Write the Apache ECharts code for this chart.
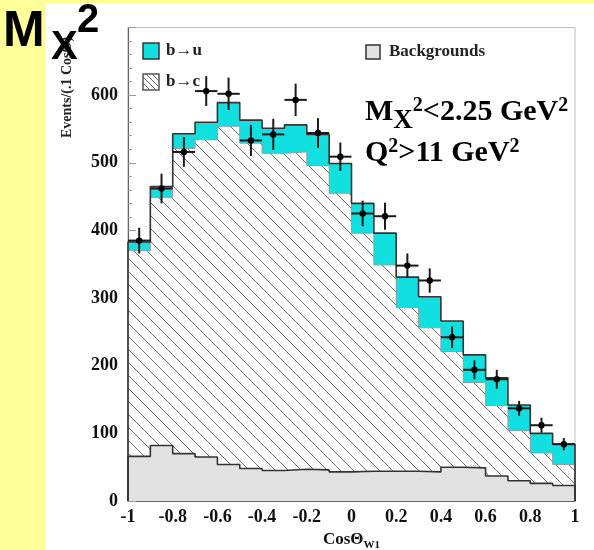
<!DOCTYPE html>
<html>
<head>
<meta charset="utf-8">
<script src="https://cdn.jsdelivr.net/npm/echarts@6/dist/echarts.min.js"></script>
<style>
html,body{margin:0;padding:0;background:#fff;}
#bg{position:absolute;left:0;top:0;width:594px;height:550px;background:#fff;}
#ystrip{position:absolute;left:0;top:0;width:45px;height:550px;background:#FFFF99;}
#tstrip{position:absolute;left:0;top:0;width:594px;height:3px;background:#FFFF99;}
#chart{position:absolute;left:0;top:0;width:594px;height:550px;}
</style>
</head>
<body>
<div id="bg"></div><div id="ystrip"></div><div id="tstrip"></div>
<div id="chart"></div>
<script>
// Bin edges (CosΘ_W1), 20 bins of width 0.1
const binEdges = [-1, -0.9, -0.8, -0.7, -0.6, -0.5, -0.4, -0.3, -0.2, -0.1, 0, 0.1, 0.2, 0.3, 0.4, 0.5, 0.6, 0.7, 0.8, 0.9, 1];
// Cumulative stack tops
const totalTop = [383, 465, 543, 560, 589, 563, 551, 556, 542, 499, 440, 396, 331, 302, 266, 216, 182, 142, 100, 84]; // b→u + b→c + bkg
const bcTop    = [370, 449, 521, 534, 554, 529, 514, 516, 496, 455, 396, 349, 286, 256, 221, 175, 141, 104, 71, 54];  // b→c + bkg
const bkg      = [66, 82, 70, 65, 54, 48, 45, 47, 46, 43, 44, 44, 44, 43, 50, 49, 37, 30, 26, 23];
// Data points
const dataX   = [-0.95, -0.85, -0.75, -0.65, -0.55, -0.45, -0.35, -0.25, -0.15, -0.05, 0.05, 0.15, 0.25, 0.35, 0.45, 0.55, 0.65, 0.75, 0.85, 0.95];
const dataY   = [385, 462, 516, 606, 602, 533, 542, 593, 544, 509, 425, 421, 348, 326, 242, 194, 180, 137, 112, 84];
const dataErr = [19, 22, 22, 22, 24, 23, 23, 24, 22, 21, 19, 20, 18, 18, 16, 14, 14, 11, 11, 9];
const yTicks = [0, 100, 200, 300, 400, 500, 600];

function hatchCanvas(s, color) {
  const c = document.createElement('canvas');
  c.width = s; c.height = s;
  const g = c.getContext('2d');
  g.fillStyle = '#fff'; g.fillRect(0, 0, s, s);
  g.strokeStyle = color; g.lineWidth = 1;
  g.beginPath();
  g.moveTo(0, 0); g.lineTo(s, s);
  g.moveTo(-2, s - 2); g.lineTo(2, s + 2);
  g.moveTo(s - 2, -2); g.lineTo(s + 2, 2);
  g.stroke();
  return c;
}
const hatch = hatchCanvas(13, '#6a6a6a');
const hatchSmall = hatchCanvas(6, '#666');

function stepData(vals) {
  const d = [[binEdges[0], 0]];
  for (let i = 0; i < vals.length; i++) d.push([binEdges[i], vals[i]]);
  d.push([binEdges[binEdges.length - 1], vals[vals.length - 1]]);
  d.push([binEdges[binEdges.length - 1], 0]);
  return d;
}

const serif = 'Liberation Serif';
const mctx = document.createElement('canvas').getContext('2d');
function tw(text, font) { mctx.font = font; return mctx.measureText(text).width; }

// Build a line of text pieces: [text, fontSize, dy]
function textRun(x0, yc, pieces) {
  const out = [];
  let x = x0;
  pieces.forEach(p => {
    const font = 'bold ' + p[1] + 'px "Liberation Serif"';
    out.push({type: 'text', x: x, y: yc + p[2], z: 20, style: {text: p[0], font: font, fill: '#000', verticalAlign: 'middle'}});
    x += tw(p[0], font);
  });
  return out;
}

const chart = echarts.init(document.getElementById('chart'), null, {renderer: 'canvas'});

function areaSeries(vals, fill, z) {
  return {type: 'line', step: 'end', data: stepData(vals), symbol: 'none', z: z,
    lineStyle: {width: 0}, areaStyle: {color: fill, opacity: 1}, silent: true, animation: false};
}
function lineSeries(vals, color, width, z) {
  return {type: 'line', step: 'end', data: stepData(vals), symbol: 'none', z: z,
    lineStyle: {color: color, width: width}, silent: true, animation: false};
}

const graphics = [
  // legend
  {type: 'rect', shape: {x: 143, y: 43, width: 16, height: 16}, style: {fill: '#12E0E0', stroke: '#333', lineWidth: 1.5}, z: 20},
  {type: 'text', x: 166, y: 51, style: {text: 'b→u', font: 'bold 17px "Liberation Serif"', fill: '#222', verticalAlign: 'middle'}, z: 20},
  {type: 'rect', shape: {x: 143, y: 74, width: 16, height: 16}, style: {fill: {image: hatchSmall, repeat: 'repeat'}, stroke: '#555', lineWidth: 1.5}, z: 20},
  {type: 'text', x: 166, y: 82, style: {text: 'b→c', font: 'bold 17px "Liberation Serif"', fill: '#222', verticalAlign: 'middle'}, z: 20},
  {type: 'rect', shape: {x: 366, y: 45, width: 14, height: 14}, style: {fill: '#E2E2E2', stroke: '#333', lineWidth: 1.5}, z: 20},
  {type: 'text', x: 389, y: 52, style: {text: 'Backgrounds', font: 'bold 17px "Liberation Serif"', fill: '#222', verticalAlign: 'middle'}, z: 20},
  // y axis title
  {type: 'text', x: 67, y: 138, rotation: Math.PI / 2, z: 15, style: {
    text: 'Events/(.1 CosΘ)', font: 'bold 14px "Liberation Serif"', fill: '#222', align: 'left', verticalAlign: 'middle'}},
  // page title
  {type: 'text', x: 3, y: 32, z: 30, style: {text: 'M', font: 'bold 50px "Liberation Sans"', fill: '#000', verticalAlign: 'middle'}},
  {type: 'text', x: 51, y: 48, z: 30, style: {text: 'X', font: 'bold 40px "Liberation Sans"', fill: '#000', verticalAlign: 'middle'}},
  {type: 'text', x: 77, y: 21, z: 30, style: {text: '2', font: 'bold 40px "Liberation Sans"', fill: '#000', verticalAlign: 'middle'}}
].concat(
  textRun(365, 112, [['M', 30, 0], ['X', 27, 9], ['2', 20, -6], ['<2.25 GeV', 30, 0], ['2', 20, -6]]),
  textRun(365, 153, [['Q', 30, 0], ['2', 20, -6], ['>11 GeV', 30, 0], ['2', 20, -6]])
);

const option = {
  backgroundColor: 'transparent',
  animation: false,
  grid: {left: 128, right: 19, top: 27.5, bottom: 49, show: true, borderColor: '#c0c0c0', borderWidth: 1,
    backgroundColor: 'transparent', containLabel: false, outerBoundsMode: 'none'},
  xAxis: {
    type: 'value', min: -1, max: 1, interval: 0.2,
    axisLine: {show: true, onZero: false, lineStyle: {color: '#666', width: 1.2}},
    axisTick: {show: true, inside: true, length: 7, lineStyle: {color: '#999'}},
    minorTick: {show: true, splitNumber: 4, length: 4, lineStyle: {color: '#999'}},
    splitLine: {show: false},
    axisLabel: {margin: 7, fontFamily: serif, fontWeight: 'bold', fontSize: 18, color: '#111',
      formatter: v => String(Math.round(v * 10) / 10)},
    name: '{a|CosΘ}{b|W1}', nameLocation: 'middle', nameGap: 26,
    nameTextStyle: {rich: {
      a: {fontFamily: serif, fontWeight: 'bold', fontSize: 17, color: '#111', lineHeight: 20, verticalAlign: 'top'},
      b: {fontFamily: serif, fontWeight: 'bold', fontSize: 11, color: '#111', lineHeight: 14, verticalAlign: 'bottom'}
    }}
  },
  yAxis: {
    type: 'value', min: 0, max: 700, interval: 100,
    axisLine: {show: true, onZero: false, lineStyle: {color: '#666', width: 1.2}},
    axisTick: {show: true, inside: true, length: 8, lineStyle: {color: '#999'}},
    minorTick: {show: true, splitNumber: 5, length: 4, lineStyle: {color: '#999'}},
    splitLine: {show: false},
    axisLabel: {margin: 10, fontFamily: serif, fontWeight: 'bold', fontSize: 18, color: '#111',
      formatter: v => yTicks.indexOf(v) >= 0 ? String(v) : ''}
  },
  series: [
    areaSeries(totalTop, '#12E0E0', 1),
    areaSeries(bcTop, {image: hatch, repeat: 'repeat'}, 2),
    areaSeries(bkg, '#E2E2E2', 3),
    lineSeries(bcTop, '#9a9a9a', 1, 4),
    lineSeries(totalTop, '#333', 1.6, 5),
    lineSeries(bkg, '#333', 1.6, 5),
    {
      type: 'custom', z: 10, silent: true, animation: false,
      data: dataX.map((x, i) => [x, dataY[i], dataErr[i]]),
      renderItem: function (params, api) {
        const x = api.value(0), y = api.value(1), e = api.value(2);
        const c = api.coord([x, y]);
        const l = api.coord([x - 0.05, y]);
        const r = api.coord([x + 0.05, y]);
        const t = api.coord([x, y + e]);
        const b = api.coord([x, y - e]);
        return {type: 'group', children: [
          {type: 'line', shape: {x1: l[0], y1: l[1], x2: r[0], y2: r[1]}, style: {stroke: '#1a1a1a', lineWidth: 2}},
          {type: 'line', shape: {x1: t[0], y1: t[1], x2: b[0], y2: b[1]}, style: {stroke: '#1a1a1a', lineWidth: 2}},
          {type: 'circle', shape: {cx: c[0], cy: c[1], r: 3.2}, style: {fill: '#000'}}
        ]};
      }
    }
  ],
  graphic: graphics
};
chart.setOption(option);
</script>
</body>
</html>
